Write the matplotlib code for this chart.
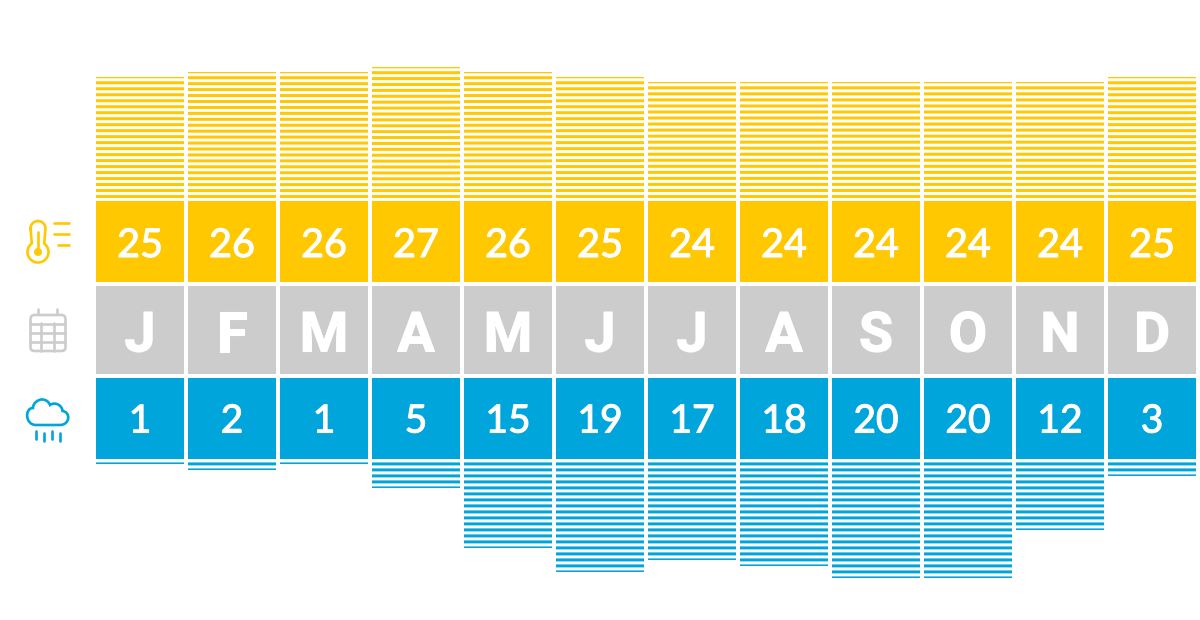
import numpy as np
import matplotlib
matplotlib.use("Agg")
import matplotlib.pyplot as plt
import matplotlib.patheffects as pe
from matplotlib.path import Path
from matplotlib.patches import PathPatch, Circle, FancyBboxPatch

months = ["J", "F", "M", "A", "M", "J", "J", "A", "S", "O", "N", "D"]
temperature = [25, 26, 26, 27, 26, 25, 24, 24, 24, 24, 24, 25]
rainfall = [1, 2, 1, 5, 15, 19, 17, 18, 20, 20, 12, 3]

YELLOW, GRAY, BLUE = "#FFC800", "#CCCCCC", "#00A5DC"
W, H = 1200, 620

fig = plt.figure(figsize=(W / 100, H / 100), dpi=100, facecolor="white")
x = np.arange(len(months))
xlim = ((0 - 140) / 92, (W - 140) / 92)
bar_w = 88 / 92


def layer(ylim):
    ax = fig.add_axes([0, 0, 1, 1], facecolor="none")
    ax.set_xlim(*xlim)
    ax.set_ylim(*ylim)
    ax.axis("off")
    return ax


# Temperature stripes: 0 at pixel 202, 5 px per degree.
# Stripes are spaced about 6 px, fitted so one ends flush with each bar's top.
ax_t = layer(((202 - H) / 5, 202 / 5))
thick_t, first_t, top_sliver = 3.0 / 5, 4.0 / 5, 1.3 / 5
for xi, v in zip(x, temperature):
    n = round((v - first_t - top_sliver) / (6 / 5))
    bottoms = np.linspace(first_t, v - top_sliver, n + 1)
    tops = np.minimum(bottoms + thick_t, v)
    ax_t.bar(np.full(len(bottoms), xi), tops - bottoms, bottom=bottoms,
             width=bar_w, color=YELLOW, linewidth=0, snap=False)

# Rain stripes: 0 at pixel 458, 6 px per unit
ax_r = layer(((H - 458) / 6, -458 / 6))
period_r, thick_r, first_r = 1.0, 3.0 / 6, 4.4 / 6
for xi, v in zip(x, rainfall):
    tops_r = np.arange(first_r, v, period_r)
    ends = np.minimum(tops_r + thick_r, v)
    ax_r.bar(np.full(len(tops_r), xi), ends - tops_r, bottom=tops_r,
             width=bar_w, color=BLUE, linewidth=0, snap=False)

# Rows of cells, y axis in pixels
ax = layer((H, 0))
ax.bar(x, 81, bottom=201, width=bar_w, color=YELLOW, linewidth=0)
ax.bar(x, 88, bottom=286, width=bar_w, color=GRAY, linewidth=0)
ax.bar(x, 81, bottom=378, width=bar_w, color=BLUE, linewidth=0)

medium = [pe.withStroke(linewidth=0.8, foreground="white")]
heavy = [pe.withStroke(linewidth=0.8, foreground="white")]
for xi, t, m, r in zip(x, temperature, months, rainfall):
    ax.text(xi, 242, str(t), color="white", fontsize=28.5, family="Lato",
            ha="center", va="center_baseline", path_effects=medium)
    ax.text(xi, 331, m, color="white", fontsize=40, family="Roboto",
            fontweight="bold", ha="center", va="center_baseline", path_effects=heavy)
    ax.text(xi, 418, str(r), color="white", fontsize=28, family="Lato",
            ha="center", va="center_baseline", path_effects=medium)

# Icons, in pixel coordinates
ic = layer((H, 0))
ic.set_xlim(0, W)
LW = 1.9


def stroke(xs, ys, color, lw=LW):
    ic.plot(xs, ys, color=color, lw=lw, solid_capstyle="round", solid_joinstyle="round")


# Thermometer
th = np.linspace(-np.pi * 0.30, np.pi * 1.30, 60)
bx = 38 + 10.5 * np.cos(th)
by = 252 + 10.5 * np.sin(th)
arc = np.linspace(np.pi, 2 * np.pi, 24)
tx = 38 + 7.5 * np.cos(arc)
ty = 228.5 + 7.5 * np.sin(arc)
stroke(np.r_[tx, bx[0], bx, tx[0]], np.r_[ty, by[0], by, ty[0]], YELLOW)
stroke([38, 38], [232, 252], YELLOW)
ic.add_patch(Circle((38, 252), 4, color=YELLOW, lw=0))
stroke([54, 69], [223, 223], YELLOW)
stroke([54, 69], [234, 234], YELLOW)
stroke([57.5, 69], [245, 245], YELLOW)

# Calendar
ic.add_patch(FancyBboxPatch((30.5, 315), 35, 36, boxstyle="round,pad=0,rounding_size=4",
                            fc="none", ec=GRAY, lw=LW))
for yy in (323.5, 333, 342):
    stroke([31, 65], [yy, yy], GRAY)
for xx in (41, 54):
    stroke([xx, xx], [323, 351], GRAY)
stroke([38, 38], [309, 314], GRAY)
stroke([57, 57], [309, 314], GRAY)

# Cloud with rain
cloud = [
    (Path.MOVETO, (36, 425)),
    (Path.CURVE4, (25, 425)), (Path.CURVE4, (24.5, 408)), (Path.CURVE4, (33, 408)),
    (Path.CURVE4, (33, 403)), (Path.CURVE4, (38, 399.5)), (Path.CURVE4, (42, 399.5)),
    (Path.CURVE4, (46, 399.5)), (Path.CURVE4, (49, 402)), (Path.CURVE4, (50, 405)),
    (Path.CURVE4, (55, 401.5)), (Path.CURVE4, (62, 405)), (Path.CURVE4, (62.5, 411)),
    (Path.CURVE4, (71, 412)), (Path.CURVE4, (70, 425)), (Path.CURVE4, (60, 425)),
    (Path.LINETO, (36, 425)),
]
codes, verts = zip(*cloud)
ic.add_patch(PathPatch(Path(verts, codes), fc="none", ec=BLUE, lw=LW))
for xx, y0 in zip((35.5, 43.7, 52, 60.3), (431, 433, 431, 433)):
    stroke([xx, xx], [y0, y0 + 8], BLUE)

fig.savefig("out.png", dpi=100, facecolor="white")
